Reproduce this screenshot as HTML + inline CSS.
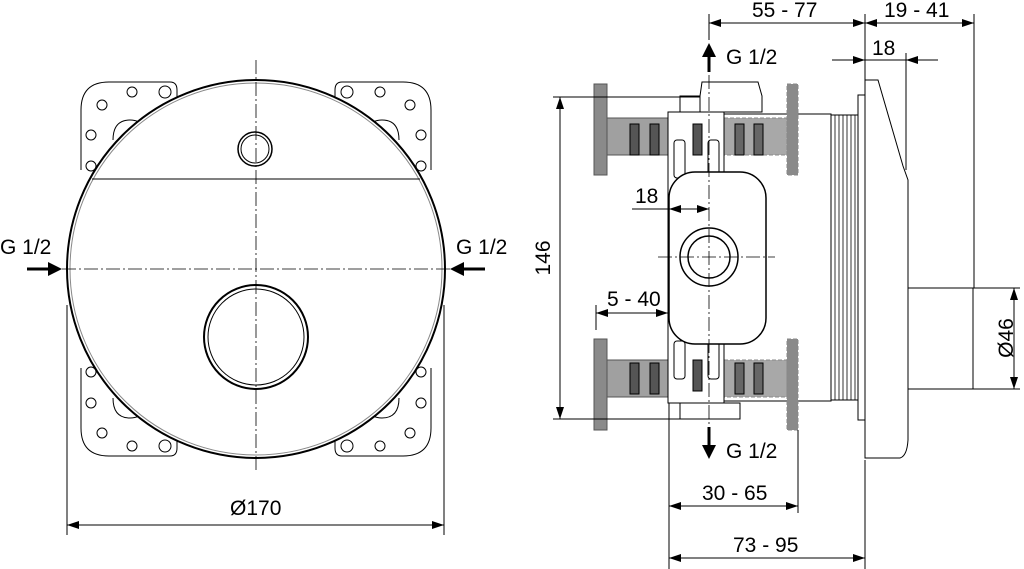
<!DOCTYPE html>
<html><head><meta charset="utf-8"><style>
html,body{margin:0;padding:0;background:#fff;}
svg{display:block;}
text{font-family:"Liberation Sans",sans-serif;font-size:21px;fill:#000;}
</style></head><body>
<svg width="1024" height="569" viewBox="0 0 1024 569" xmlns="http://www.w3.org/2000/svg">
<defs>
<marker id="a" viewBox="0 0 12 8" refX="12" refY="4" markerWidth="12" markerHeight="8" orient="auto-start-reverse" markerUnits="userSpaceOnUse"><path d="M0,0L12,4L0,8z" fill="#000"/></marker>
</defs>
<g fill="none" stroke="#000" stroke-width="1">
<g id="pl">
<path d="M81,170 L81,110 Q81,82 109,82 L170,82 Q177,82 177,90 L177,100"/>
<circle cx="102" cy="105" r="5"/><circle cx="132" cy="92" r="5"/><circle cx="165" cy="92" r="6"/>
<circle cx="91" cy="135" r="5"/><circle cx="91" cy="166" r="5"/>
<path d="M113,140 Q113,120 130,120 Q140,120 145,128"/>
</g>
<use href="#pl" transform="translate(512,0) scale(-1,1)"/>
<use href="#pl" transform="translate(0,538) scale(1,-1)"/>
<use href="#pl" transform="translate(512,538) scale(-1,-1)"/>
</g>
<circle cx="256" cy="269" r="189" fill="#fff" stroke="#000" stroke-width="2"/>
<circle cx="256" cy="269" r="186" fill="none" stroke="#888" stroke-width="1"/>
<line x1="92" y1="179" x2="420" y2="179" stroke="#000"/>
<circle cx="255" cy="149" r="17" fill="none" stroke="#000" stroke-width="1.5"/>
<circle cx="255" cy="149" r="14" fill="none" stroke="#000" stroke-width="1"/>
<circle cx="256" cy="337" r="52" fill="none" stroke="#000" stroke-width="2"/>
<circle cx="256" cy="337" r="48" fill="none" stroke="#000" stroke-width="1"/>
<g stroke="#000" stroke-width="0.8" stroke-dasharray="14,3,2,3" fill="none">
<line x1="256" y1="60" x2="256" y2="470"/>
<line x1="62" y1="269" x2="452" y2="269"/>
</g>
<g stroke="#000" stroke-width="1" fill="none">
<line x1="67" y1="305" x2="67" y2="535"/><line x1="444" y1="305" x2="444" y2="535"/>
<line x1="67" y1="525" x2="444" y2="525" marker-start="url(#a)" marker-end="url(#a)"/>
</g>
<g stroke="#000" stroke-width="3"><line x1="27" y1="269" x2="50" y2="269"/><line x1="485" y1="269" x2="462" y2="269"/></g>
<path d="M48,262L62,269L48,276z"/><path d="M464,262L450,269L464,276z"/>
<text x="0" y="254">G 1/2</text><text x="456" y="254">G 1/2</text>
<text x="230" y="515">Ø170</text>

<g stroke="#000" stroke-width="1">
<rect x="724" y="114" width="107" height="287" fill="#fff"/>
<rect x="831" y="115" width="27" height="285" fill="#fff"/>
<g stroke-width="0.8"><line x1="835" y1="115" x2="835" y2="400"/><line x1="839" y1="115" x2="839" y2="400"/><line x1="843" y1="115" x2="843" y2="400"/><line x1="847" y1="115" x2="847" y2="400"/><line x1="851" y1="115" x2="851" y2="400"/><line x1="855" y1="115" x2="855" y2="400"/></g>
<rect x="858" y="95" width="7" height="325" fill="#fff"/>
<path d="M865,80 L878,80 L903,166 L908,180 L908,440 Q907,456 900,458 L865,458 Z" fill="#fff"/>
<rect x="908" y="288" width="65" height="101" fill="#fff"/>
<rect x="594" y="84" width="13" height="91" fill="#8a8a8a" stroke="#555"/>
<rect x="607" y="118" width="61" height="37" fill="#a0a0a0" stroke="#555"/>
<rect x="630" y="124" width="9" height="31" fill="#555"/><rect x="650" y="124" width="9" height="31" fill="#555"/>
<rect x="594" y="339" width="13" height="91" fill="#8a8a8a" stroke="#555"/>
<rect x="607" y="360" width="61" height="37" fill="#a0a0a0" stroke="#555"/>
<rect x="630" y="363" width="9" height="31" fill="#555"/><rect x="650" y="363" width="9" height="31" fill="#555"/>
<rect x="724" y="118" width="63" height="37" fill="#a8a8a8" stroke="#888" stroke-dasharray="4,2"/>
<rect x="735" y="124" width="9" height="31" fill="#666"/><rect x="754" y="124" width="9" height="31" fill="#666"/>
<rect x="787" y="84" width="11" height="91" fill="#8a8a8a" stroke="#888" stroke-dasharray="4,2"/>
<rect x="724" y="360" width="63" height="37" fill="#a8a8a8" stroke="#888" stroke-dasharray="4,2"/>
<rect x="735" y="363" width="9" height="31" fill="#666"/><rect x="754" y="363" width="9" height="31" fill="#666"/>
<rect x="787" y="339" width="11" height="91" fill="#8a8a8a" stroke="#888" stroke-dasharray="4,2"/>
<rect x="680" y="96" width="60" height="16" fill="#fff"/>
<path d="M700,96 L702,82 L758,82 L762,96 L762,112 L700,112 Z" fill="#fff"/>
<rect x="668" y="112" width="56" height="291" fill="#fff"/>
<rect x="680" y="403" width="60" height="16" fill="#fff"/>
<rect x="693" y="124" width="9" height="31" fill="#555"/>
<rect x="693" y="360" width="9" height="31" fill="#555"/>
<rect x="674" y="140" width="11" height="38" rx="3" fill="#fff"/><rect x="708" y="140" width="11" height="38" rx="3" fill="#fff"/>
<rect x="674" y="341" width="11" height="38" rx="3" fill="#fff"/><rect x="708" y="341" width="11" height="38" rx="3" fill="#fff"/>
<rect x="669" y="172" width="97" height="172" rx="26" fill="#fff" stroke-width="1.5"/>
<circle cx="709" cy="257" r="29" fill="none" stroke-width="1.5"/>
<circle cx="709" cy="257" r="21" fill="none" stroke-width="1.5"/>
</g>
<g stroke="#000" stroke-width="0.8" stroke-dasharray="14,3,2,3" fill="none">
<line x1="709" y1="75" x2="709" y2="425"/><line x1="658" y1="257" x2="775" y2="257"/>
</g>
<g stroke="#000" stroke-width="1" fill="none">
<line x1="553" y1="97" x2="700" y2="97"/><line x1="553" y1="419" x2="700" y2="419"/>
<line x1="560" y1="97" x2="560" y2="419" marker-start="url(#a)" marker-end="url(#a)"/>
<line x1="709" y1="14" x2="709" y2="40"/><line x1="865" y1="14" x2="865" y2="80"/><line x1="974" y1="14" x2="974" y2="288"/>
<line x1="709" y1="23" x2="865" y2="23" marker-start="url(#a)" marker-end="url(#a)"/>
<line x1="865" y1="23" x2="974" y2="23" marker-start="url(#a)" marker-end="url(#a)"/>
<line x1="832" y1="60" x2="865" y2="60" marker-end="url(#a)"/>
<line x1="938" y1="60" x2="906" y2="60" marker-end="url(#a)"/>
<line x1="865" y1="60" x2="906" y2="60"/>
<line x1="906" y1="53" x2="906" y2="170"/>
<line x1="973" y1="288" x2="1020" y2="288"/><line x1="973" y1="389" x2="1020" y2="389"/>
<line x1="1014" y1="288" x2="1014" y2="389" marker-start="url(#a)" marker-end="url(#a)"/>
<line x1="596" y1="305" x2="596" y2="330"/>
<line x1="596" y1="313" x2="668" y2="313" marker-start="url(#a)" marker-end="url(#a)"/>
<line x1="632" y1="209" x2="669" y2="209" />
<line x1="669" y1="209" x2="709" y2="209" marker-start="url(#a)" marker-end="url(#a)"/>
<line x1="669" y1="403" x2="669" y2="569"/><line x1="798" y1="430" x2="798" y2="513"/><line x1="865" y1="460" x2="865" y2="569"/>
<line x1="669" y1="506" x2="798" y2="506" marker-start="url(#a)" marker-end="url(#a)"/>
<line x1="669" y1="558" x2="865" y2="558" marker-start="url(#a)" marker-end="url(#a)"/>
</g>
<g stroke="#000" stroke-width="3"><line x1="709" y1="72" x2="709" y2="54"/><line x1="709" y1="427" x2="709" y2="447"/></g>
<path d="M702,57L709,43L716,57z"/><path d="M702,445L709,459L716,445z"/>
<text x="726" y="64">G 1/2</text><text x="726" y="458">G 1/2</text>
<text x="752" y="17">55 - 77</text><text x="884" y="17">19 - 41</text>
<text x="872" y="55">18</text><text x="635" y="203">18</text>
<text x="607" y="306">5 - 40</text>
<text x="702" y="500">30 - 65</text><text x="733" y="552">73 - 95</text>
<text transform="translate(550,258) rotate(-90)" text-anchor="middle">146</text>
<text transform="translate(1013,338) rotate(-90)" text-anchor="middle">Ø46</text>
</svg>
</body></html>
